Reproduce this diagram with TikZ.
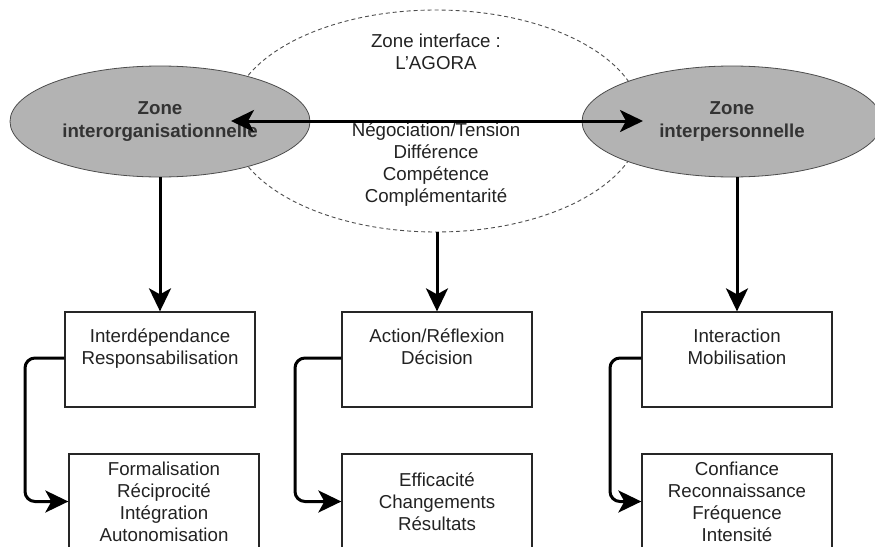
\documentclass[tikz,border=0pt]{standalone}
\usepackage{fontspec}
\setmainfont{Liberation Sans}
\usetikzlibrary{arrows.meta,shapes.geometric}
\definecolor{zonefill}{HTML}{B3B3B3}
\definecolor{txt}{HTML}{222222}
\definecolor{ztxt}{HTML}{333333}
\tikzset{
  tip/.tip={Stealth[length=23pt,width=22pt,inset=6pt]},
  zone/.style={ellipse, draw=black!70, line width=0.8pt, fill=zonefill, minimum width=300pt, minimum height=111pt, inner sep=0pt, text=ztxt, font=\fontsize{18.7}{22.5}\selectfont\bfseries, align=center},
  agora/.style={ellipse, draw=black!70, dashed, dash pattern=on 4pt off 3pt, line width=0.9pt, minimum width=412pt, minimum height=222pt, inner sep=0pt},
  lbl/.style={text=txt, font=\fontsize{18.7}{22}\selectfont, align=center, inner sep=0pt},
  box/.style={draw=black!85, line width=1.3pt, minimum width=190pt, minimum height=95pt, inner sep=0pt, text=txt, font=\fontsize{18.7}{22}\selectfont, align=center},
  conn/.style={line width=3pt, -tip},
  elbow/.style={line width=3pt, rounded corners=10pt, -tip},
}
\begin{document}
\begin{tikzpicture}[x=1pt,y=-1pt]
\useasboundingbox (0,0) rectangle (875,546);
% agora
\node[agora] (ag) at (436,121) {};
\node[lbl] (agt) at (436,52) {Zone interface :\\L'AGORA};
\node[lbl] (agl) at (436,165) {Négociation/Tension\\Différence\\Compétence\\Complémentarité};
% zones
\node[zone] (zl) at (160,121.5) {Zone\\interorganisationnelle};
\node[zone] (zr) at (732,121.5) {Zone\\interpersonnelle};
% horizontal double arrow
\coordinate (hl) at (231,121);
\coordinate (hr) at (643,121);
\draw[line width=3pt, tip-tip] (hl) -- (hr);
% boxes
\node[box] (b1) at (160,359.5) {Interdépendance\\Responsabilisation\\[4pt]};
\node[box] (b2) at (437,359.5) {Action/Réflexion\\Décision\\[4pt]};
\node[box] (b3) at (737,359.5) {Interaction\\Mobilisation\\[4pt]};
\node[box] (c1) at (164,501.5) {Formalisation\\Réciprocité\\Intégration\\Autonomisation};
\node[box] (c2) at (437,501.5) {Efficacité\\Changements\\Résultats};
\node[box] (c3) at (737,501.5) {Confiance\\Reconnaissance\\Fréquence\\Intensité};
% vertical arrows
\draw[conn] (zl.south) -- (b1.north);
\draw[conn] (ag.south -| b2.north) -- (b2.north);
\draw[conn] (zr.south -| b3.north) -- (b3.north);
% elbows
\draw[elbow] (b1.west |- 0,358) -| (25,430) |- (c1.west);
\draw[elbow] (b2.west |- 0,358) -| (295,430) |- (c2.west);
\draw[elbow] (b3.west |- 0,358) -| (610,430) |- (c3.west);
\end{tikzpicture}
\end{document}
